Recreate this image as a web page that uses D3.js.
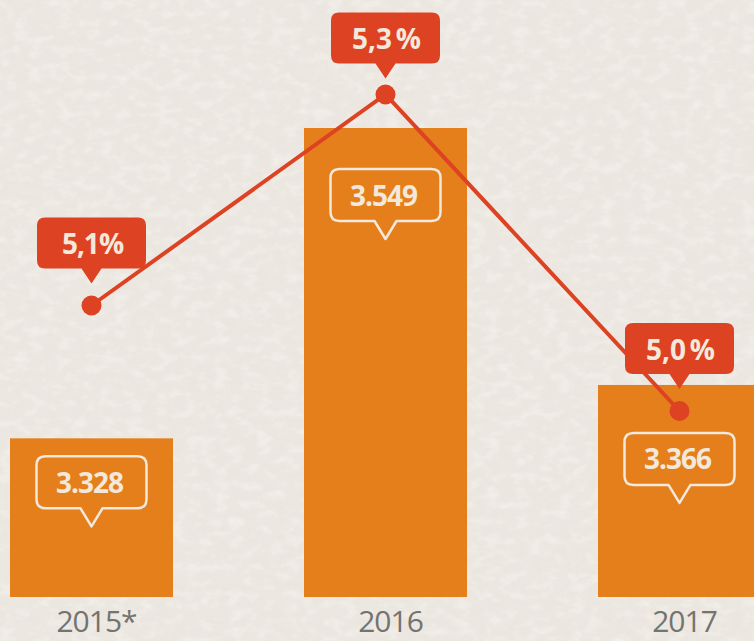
<!DOCTYPE html>
<html>
<head>
<meta charset="utf-8">
<script src="https://cdn.jsdelivr.net/npm/d3@7"></script>
<style>
  html, body { margin: 0; padding: 0; background: #ebe6df; }
  svg { display: block; }
</style>
</head>
<body>
<div id="chart"></div>
<script>
;(function (d3) {
  'use strict';

  // data
  var years = ['2015*', '2016', '2017'];
  var amounts = [3.328, 3.549, 3.366];
  var amountLabels = ['3.328', '3.549', '3.366'];
  var shares = [5.1, 5.3, 5.0];
  var shareLabels = ['5,1%', '5,3\u202F%', '5,0\u202F%'];

  var width = 754, height = 641;
  var colors = {
    bg: '#ebe6df',
    bar: '#e57f1c',
    line: '#dd4223',
    light: '#f3e8dc',
    axis: '#737370'
  };

  // callout nudges, per point
  var shareGap = [22, 16, 22];
  var amountGap = [18, 41, 48];

  var svg = d3.select('#chart').append('svg')
    .attr('width', width)
    .attr('height', height);

  // paper texture
  var defs = svg.append('defs');
  var f = defs.append('filter').attr('id', 'paper')
    .attr('x', 0).attr('y', 0).attr('width', '100%').attr('height', '100%');
  f.append('feTurbulence')
    .attr('type', 'fractalNoise')
    .attr('baseFrequency', '0.07 0.11')
    .attr('numOctaves', 4)
    .attr('seed', 7);
  f.append('feColorMatrix')
    .attr('type', 'matrix')
    .attr('values', '0 0 0 0 1  0 0 0 0 1  0 0 0 0 1  0 0 0 -1.8 1.05');

  svg.append('rect')
    .attr('width', width).attr('height', height)
    .attr('fill', colors.bg);
  svg.append('rect')
    .attr('width', width).attr('height', height)
    .attr('filter', 'url(#paper)')
    .attr('opacity', 0.4);

  var x = d3.scaleBand()
    .domain(years)
    .range([10, 761])
    .paddingInner(131 / 294)
    .paddingOuter(0);

  var yBar = d3.scaleLinear()
    .domain([3.215, 3.549])
    .range([597, 128]);

  var yLine = d3.scaleLinear()
    .domain([5.0, 5.3])
    .range([411, 94.5]);

  var cx = function (i) { return x(years[i]) + x.bandwidth() / 2; };

  // rounded box with a pointer under it, tip at (px, tipY)
  function callout(px, tipY, w, h, r, pw, ph) {
    var b = tipY - ph, t = b - h, l = px - w / 2, rt = px + w / 2;
    return 'M' + (l + r) + ',' + t +
      'H' + (rt - r) + 'Q' + rt + ',' + t + ' ' + rt + ',' + (t + r) +
      'V' + (b - r) + 'Q' + rt + ',' + b + ' ' + (rt - r) + ',' + b +
      'H' + (px + pw / 2) + 'L' + px + ',' + tipY + 'L' + (px - pw / 2) + ',' + b +
      'H' + (l + r) + 'Q' + l + ',' + b + ' ' + l + ',' + (b - r) +
      'V' + (t + r) + 'Q' + l + ',' + t + ' ' + (l + r) + ',' + t + 'Z';
  }

  // bars
  svg.append('g').selectAll('rect')
    .data(amounts)
    .join('rect')
    .attr('x', function (d, i) { return x(years[i]); })
    .attr('y', function (d) { return yBar(d); })
    .attr('width', x.bandwidth())
    .attr('height', function (d) { return yBar.range()[0] - yBar(d); })
    .attr('fill', colors.bar);

  // amount callouts inside bars
  var amt = svg.append('g').selectAll('g')
    .data(amounts)
    .join('g');
  amt.append('path')
    .attr('d', function (d, i) {
      var top = yBar(d) + amountGap[i];
      return callout(cx(i), top + 52 + 18, 110, 52, 9, 22, 18);
    })
    .attr('fill', 'none')
    .attr('stroke', colors.light)
    .attr('stroke-width', 2.5)
    .attr('stroke-linejoin', 'round');
  amt.append('text')
    .attr('x', function (d, i) { return cx(i) - 2; })
    .attr('y', function (d, i) { return yBar(d) + amountGap[i] + 26 + 10.5; })
    .attr('text-anchor', 'middle')
    .attr('fill', colors.light)
    .style('font-family', '"Open Sans", sans-serif')
    .style('font-weight', 'bold')
    .style('font-size', '28px')
    .style('letter-spacing', '-1px')
    .text(function (d, i) { return amountLabels[i]; });

  // share line
  var line = d3.line()
    .x(function (d, i) { return cx(i); })
    .y(function (d) { return yLine(d); });

  svg.append('path')
    .datum(shares)
    .attr('d', line)
    .attr('fill', 'none')
    .attr('stroke', colors.line)
    .attr('stroke-width', 4);

  svg.append('g').selectAll('circle')
    .data(shares)
    .join('circle')
    .attr('cx', function (d, i) { return cx(i); })
    .attr('cy', function (d) { return yLine(d); })
    .attr('r', 10)
    .attr('fill', colors.line);

  // share callouts
  var shr = svg.append('g').selectAll('g')
    .data(shares)
    .join('g');
  shr.append('path')
    .attr('d', function (d, i) {
      return callout(cx(i), yLine(d) - shareGap[i], 109, 51, 8, 20, 15);
    })
    .attr('fill', colors.line);
  shr.append('text')
    .attr('x', function (d, i) { return cx(i) + 1; })
    .attr('y', function (d, i) { return yLine(d) - shareGap[i] - 15 - 25.5 + 11; })
    .attr('text-anchor', 'middle')
    .attr('fill', colors.light)
    .style('font-family', '"Open Sans", sans-serif')
    .style('font-weight', 'bold')
    .style('font-size', '28px')
    .style('letter-spacing', '-1px')
    .text(function (d, i) { return shareLabels[i]; });

  // year labels
  svg.append('g').selectAll('text')
    .data(years)
    .join('text')
    .attr('x', function (d, i) { return cx(i) + 5; })
    .attr('y', 632)
    .attr('text-anchor', 'middle')
    .attr('fill', colors.axis)
    .style('font-family', '"Open Sans", sans-serif')
    .style('font-size', '30px')
    .style('letter-spacing', '-1px')
    .text(function (d) { return d; });

})(d3);
</script>
</body>
</html>
